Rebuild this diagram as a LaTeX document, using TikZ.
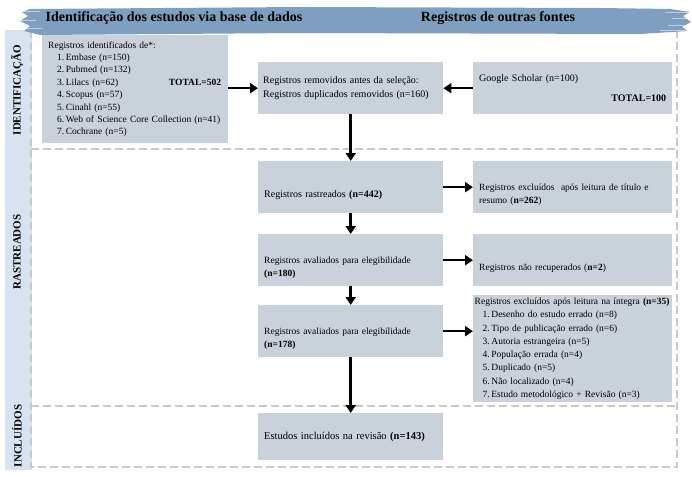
\documentclass[tikz,border=0pt]{standalone}
\usepackage{fontspec}
\setmainfont{Liberation Serif}
\usetikzlibrary{arrows.meta,positioning,calc}
\definecolor{boxgray}{HTML}{C9D1DB}
\definecolor{bandblue}{HTML}{7E9FBF}
\definecolor{sidebarblue}{HTML}{D7E3F1}
\definecolor{dashgray}{HTML}{C8C8C8}
\newcommand{\lowstrut}{\rule{0pt}{22pt}}
\tikzset{
  box/.style={fill=boxgray,anchor=north west,inner xsep=6pt,inner ysep=2pt,
    font=\fontsize{9.5}{13.3}\selectfont,align=left,
    minimum width=#1,text width=#1-12pt},
  box/.default=185pt,
  fs/.style={font=\fontsize{#1}{13.3}\selectfont},
  flow/.style={->,line width=2.5pt},
  frameline/.style={dashgray,line width=2.4pt,dash pattern=on 8pt off 4pt},
  sidelabel/.style={rotate=90,font=\bfseries\fontsize{11}{11}\selectfont},
  headtitle/.style={font=\bfseries\fontsize{14}{14}\selectfont}
}
\begin{document}
\begin{tikzpicture}[x=1pt,y=-1pt,>={Triangle[length=8pt,width=10pt]}]
  \useasboundingbox (0,0) rectangle (692,476);
  % side bar and dashed frames
  \fill[sidebarblue] (5,30) rectangle (32,470);
  \draw[frameline] (31,30) rectangle (677,467);
  \draw[frameline] (31,149) -- (677,149);
  \draw[frameline] (31,406) -- (677,406);
  % brush header
  \fill[bandblue] (30,9) -- (300,7) -- (600,8) -- (670,9) -- (690,12) -- (683,16) -- (691,22)
    -- (682,27) -- (688,31) -- (640,34) -- (300,33) -- (40,35) -- (24,31) -- (30,26)
    -- (20,21) -- (28,16) -- (22,12) -- cycle;
  \foreach \yy/\xa in {12/665,18/672,25/668,30/660} {
    \draw[white,opacity=.5,line width=.6pt] (\xa,\yy) -- (692,\yy);
  }
  \foreach \yy/\xa in {11/40,20/36,28/42} {
    \draw[white,opacity=.5,line width=.6pt] (18,\yy) -- (\xa,\yy);
  }
  \node[headtitle] (titleDb) at (174,18) {Identificação dos estudos via base de dados};
  \node[headtitle] (titleOther) at (498,18) {Registros de outras fontes};
  \node[sidelabel] (labIdent) at (17,90) {IDENTIFICAÇÃO};
  \node[sidelabel] (labScreen) at (17,252) {RASTREADOS};
  \node[sidelabel] (labIncl) at (17,436) {INCLUÍDOS};

  % boxes
  \node[box=186pt,minimum height=108pt,inner xsep=5pt,font=\fontsize{9.5}{12.4}\selectfont] (ident) at (42,35) {Registros identificados de*:\\
    \hspace*{9pt}1.\,Embase (n=150)\\
    \hspace*{9pt}2.\,Pubmed (n=132)\\
    \hspace*{9pt}3.\,Lilacs (n=62)\\
    \hspace*{9pt}4.\,Scopus (n=57)\\
    \hspace*{9pt}5.\,Cinahl (n=55)\\
    \hspace*{9pt}6.\,Web of Science Core Collection (n=41)\\
    \hspace*{9pt}7.\,Cochrane (n=5)};
  \node[font=\bfseries\fontsize{9.5}{9.5}\selectfont] (total502) at (195,82) {TOTAL=502};
  \node[box,fs=10,minimum height=52pt,inner xsep=5pt,text width=175pt] (dupl) at (258,62) {Registros removidos antes da seleção:\\
    Registros duplicados removidos (n=160)};
  \node[box=199pt,fs=10,minimum height=52pt] (google) at (473,62) {Google Scholar (n=100)\\[7pt]
    \hfill\textbf{TOTAL=100}\hspace*{14pt}};
  \node[box,fs=10,minimum height=52pt] (screen) at (258,161) {\lowstrut Registros rastreados \textbf{(n=442)}};
  \node[box=199pt,minimum height=52pt] (exclTitle) at (473,161) {\lowstrut Registros excluídos \ após leitura de título e\\
    resumo (\textbf{n=262})};
  \node[box,minimum height=52pt] (elig1) at (258,234) {\lowstrut Registros avaliados para elegibilidade\\
    \textbf{(n=180)}};
  \node[box=199pt,minimum height=52pt] (notRetr) at (473,234) {\lowstrut Registros não recuperados (\textbf{n=2})};
  \node[box,minimum height=52pt] (elig2) at (258,305) {\lowstrut Registros avaliados para elegibilidade\\
    \textbf{(n=178)}};
  \node[box=199pt,minimum height=107pt,inner xsep=1.5pt,text width=196pt] (exclFull) at (473,295) {Registros excluídos após leitura na íntegra \textbf{(n=35)}\\
    \hspace*{8pt}1.\,Desenho do estudo errado (n=8)\\
    \hspace*{8pt}2.\,Tipo de publicação errado (n=6)\\
    \hspace*{8pt}3.\,Autoria estrangeira (n=5)\\
    \hspace*{8pt}4.\,População errada (n=4)\\
    \hspace*{8pt}5.\,Duplicado (n=5)\\
    \hspace*{8pt}6.\,Não localizado (n=4)\\
    \hspace*{8pt}7.\,Estudo metodológico + Revisão (n=3)};
  \node[box,fs=10.5,minimum height=47pt] (incl) at (258,413) {Estudos incluídos na revisão \textbf{(n=143)}};

  % connectors
  \draw[flow] (ident.east |- dupl.west) -- (dupl.west);
  \draw[flow] (google.west) -- (dupl.east);
  \draw[flow] (dupl.south) -- (screen.north);
  \draw[flow] (screen.east) -- (exclTitle.west);
  \draw[flow] (screen.south) -- (elig1.north);
  \draw[flow] (elig1.east) -- (notRetr.west);
  \draw[flow] (elig1.south) -- (elig2.north);
  \draw[flow] (elig2.east) -- (elig2.east -| exclFull.west);
  \draw[flow] (elig2.south) -- (incl.north);
\end{tikzpicture}
\end{document}
